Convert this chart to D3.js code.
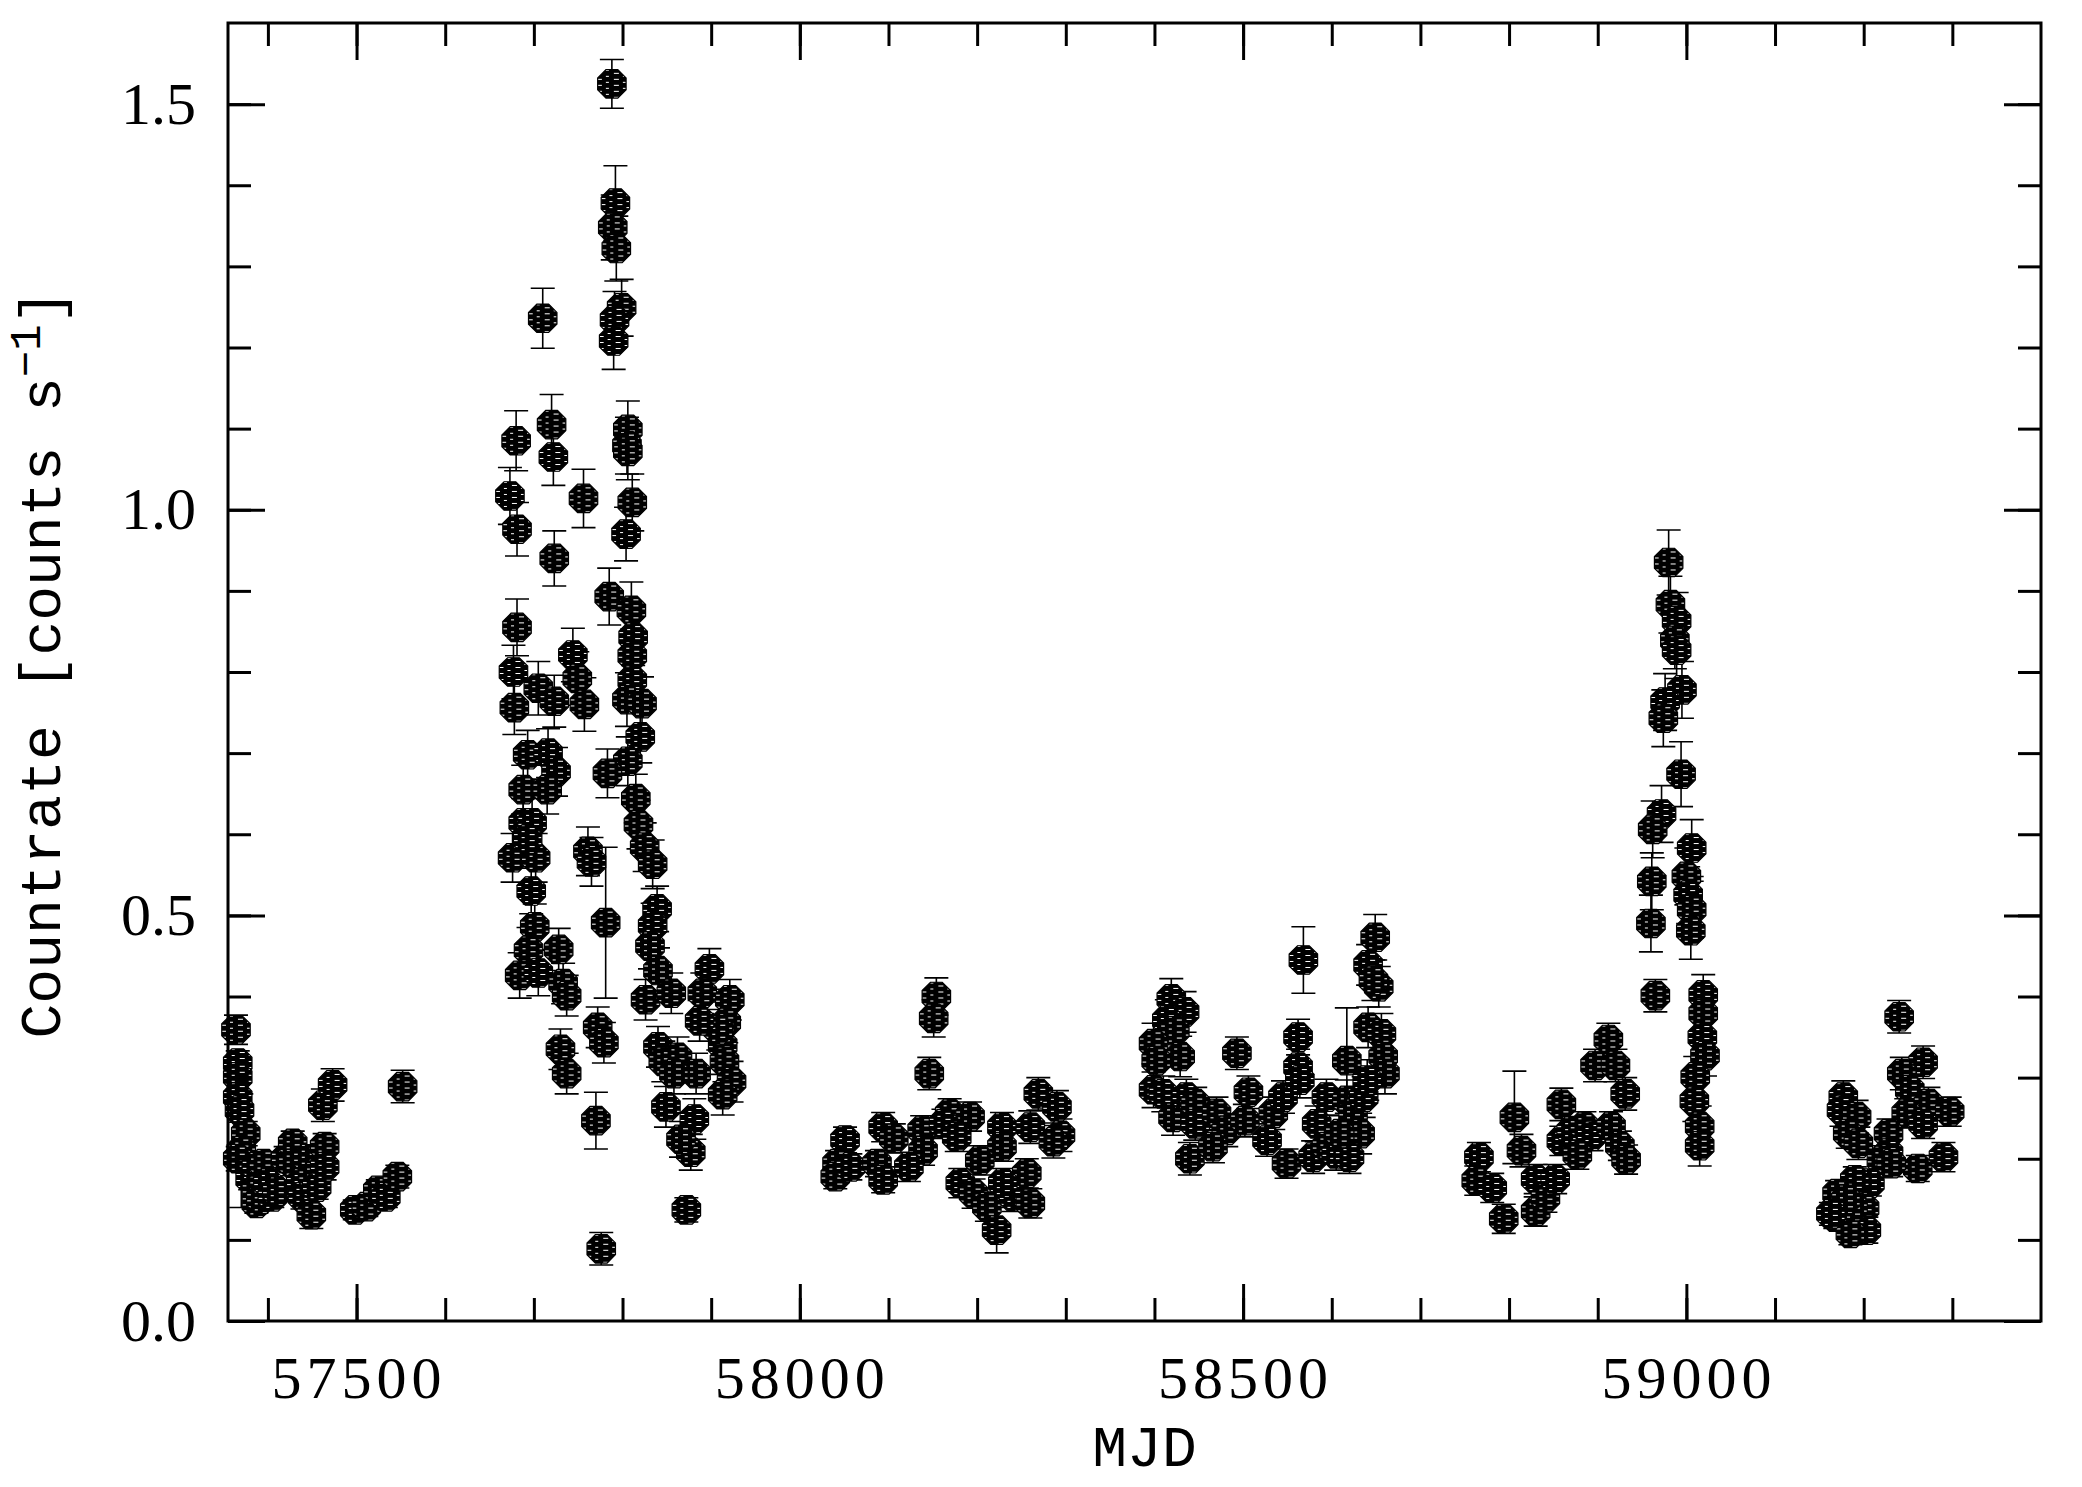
<!DOCTYPE html>
<html>
<head>
<meta charset="utf-8">
<script src="https://cdn.jsdelivr.net/npm/d3@7.9.0/dist/d3.min.js"></script>
<style>
  html, body { margin: 0; padding: 0; background: #fff; }
  svg { display: block; }
  .tick-label { font-family: "Liberation Serif", serif; font-size: 60px; fill: #000; }
  .x-label { letter-spacing: 5px; }
  .axis-title { font-family: "Liberation Mono", monospace; font-size: 58px; fill: #000; }
</style>
</head>
<body>
<svg id="chart" width="2082" height="1487"></svg>
<script>
// [MJD, countrate, error] per visibility season
const season1 = [
  [57364, 0.359, 0.018], [57366, 0.318, 0.015], [57366, 0.301, 0.015], [57366, 0.276, 0.015],
  [57368, 0.260, 0.015], [57375, 0.231, 0.015], [57370, 0.210, 0.070], [57366, 0.200, 0.015],
  [57380, 0.175, 0.013], [57387, 0.190, 0.015], [57387, 0.161, 0.015], [57387, 0.145, 0.012],
  [57392, 0.150, 0.012], [57395, 0.194, 0.014], [57400, 0.170, 0.014], [57405, 0.153, 0.013],
  [57410, 0.160, 0.013], [57420, 0.200, 0.015], [57428, 0.219, 0.015], [57428, 0.194, 0.015],
  [57437, 0.170, 0.015], [57439, 0.153, 0.015], [57445, 0.200, 0.015], [57449, 0.131, 0.017],
  [57451, 0.178, 0.015], [57455, 0.165, 0.015], [57464, 0.215, 0.016], [57464, 0.190, 0.016],
  [57462, 0.266, 0.020], [57473, 0.291, 0.020], [57498, 0.137, 0.012], [57511, 0.141, 0.012],
  [57524, 0.161, 0.013], [57533, 0.153, 0.013], [57546, 0.178, 0.014], [57552, 0.289, 0.020]
];

const season2 = [
  [57788, 1.525, 0.030], [57792, 1.378, 0.046], [57789, 1.348, 0.040], [57793, 1.322, 0.040],
  [57710, 1.236, 0.037], [57799, 1.249, 0.035], [57791, 1.234, 0.035], [57790, 1.208, 0.035],
  [57680, 1.085, 0.037], [57720, 1.105, 0.037], [57722, 1.065, 0.035], [57673, 1.017, 0.035],
  [57681, 0.976, 0.033], [57756, 1.014, 0.036], [57723, 0.940, 0.034], [57806, 1.099, 0.035],
  [57805, 1.079, 0.035], [57806, 1.072, 0.035], [57811, 1.009, 0.035], [57804, 0.970, 0.033],
  [57785, 0.893, 0.035], [57810, 0.876, 0.035], [57812, 0.843, 0.035], [57811, 0.820, 0.033],
  [57811, 0.790, 0.033], [57681, 0.855, 0.035], [57677, 0.800, 0.033], [57744, 0.821, 0.033],
  [57749, 0.792, 0.033], [57705, 0.780, 0.033], [57678, 0.756, 0.033], [57723, 0.764, 0.032],
  [57757, 0.760, 0.033], [57805, 0.766, 0.033], [57822, 0.761, 0.033], [57820, 0.720, 0.032],
  [57806, 0.690, 0.030], [57783, 0.675, 0.030], [57693, 0.698, 0.030], [57716, 0.700, 0.030],
  [57725, 0.677, 0.030], [57688, 0.655, 0.030], [57715, 0.655, 0.030], [57815, 0.644, 0.030],
  [57818, 0.612, 0.030], [57688, 0.614, 0.030], [57698, 0.614, 0.030], [57676, 0.571, 0.030],
  [57702, 0.571, 0.030], [57693, 0.594, 0.030], [57761, 0.579, 0.030], [57765, 0.566, 0.030],
  [57825, 0.584, 0.030], [57834, 0.563, 0.030], [57697, 0.530, 0.028], [57701, 0.486, 0.028],
  [57781, 0.491, 0.093], [57839, 0.508, 0.028], [57834, 0.487, 0.028], [57831, 0.462, 0.028],
  [57840, 0.432, 0.028], [57826, 0.396, 0.025], [57855, 0.404, 0.025], [57694, 0.457, 0.028],
  [57684, 0.426, 0.028], [57705, 0.429, 0.028], [57728, 0.458, 0.026], [57733, 0.416, 0.025],
  [57737, 0.401, 0.025], [57772, 0.362, 0.025], [57779, 0.343, 0.025], [57898, 0.434, 0.025],
  [57890, 0.404, 0.025], [57921, 0.396, 0.025], [57917, 0.368, 0.025], [57913, 0.340, 0.025],
  [57915, 0.320, 0.025], [57923, 0.295, 0.025], [57913, 0.279, 0.025], [57840, 0.338, 0.025],
  [57846, 0.320, 0.025], [57849, 0.264, 0.025], [57862, 0.325, 0.025], [57883, 0.305, 0.025],
  [57881, 0.249, 0.025], [57877, 0.208, 0.022], [57866, 0.224, 0.022], [57730, 0.335, 0.025],
  [57737, 0.305, 0.025], [57770, 0.247, 0.035], [57872, 0.137, 0.015], [57776, 0.089, 0.020],
  [57908, 0.359, 0.025], [57858, 0.305, 0.025], [57887, 0.370, 0.025]
];

const season3 = [
  [58154, 0.400, 0.023], [58151, 0.373, 0.023], [58146, 0.305, 0.020], [58094, 0.239, 0.018],
  [58106, 0.225, 0.018], [58051, 0.223, 0.016], [58042, 0.194, 0.016], [58040, 0.178, 0.015],
  [58057, 0.190, 0.016], [58087, 0.194, 0.016], [58094, 0.174, 0.016], [58138, 0.235, 0.018],
  [58139, 0.210, 0.018], [58123, 0.190, 0.018], [58169, 0.256, 0.018], [58192, 0.252, 0.018],
  [58162, 0.243, 0.018], [58177, 0.227, 0.018], [58228, 0.239, 0.018], [58228, 0.215, 0.018],
  [58203, 0.198, 0.018], [58181, 0.170, 0.018], [58196, 0.157, 0.018], [58211, 0.141, 0.018],
  [58222, 0.112, 0.028], [58241, 0.153, 0.018], [58256, 0.182, 0.018], [58260, 0.145, 0.018],
  [58269, 0.280, 0.020], [58290, 0.264, 0.020], [58260, 0.239, 0.020], [58294, 0.229, 0.020],
  [58286, 0.221, 0.020], [58229, 0.170, 0.018]
];

const season4 = [
  [58649, 0.473, 0.028], [58641, 0.439, 0.025], [58653, 0.412, 0.025], [58647, 0.420, 0.025],
  [58641, 0.362, 0.025], [58656, 0.354, 0.025], [58658, 0.326, 0.025], [58660, 0.305, 0.025],
  [58419, 0.397, 0.025], [58434, 0.381, 0.025], [58414, 0.371, 0.025], [58423, 0.358, 0.025],
  [58399, 0.342, 0.025], [58429, 0.326, 0.025], [58402, 0.321, 0.025], [58399, 0.285, 0.022],
  [58410, 0.280, 0.022], [58421, 0.251, 0.022], [58436, 0.276, 0.022], [58446, 0.268, 0.020],
  [58446, 0.243, 0.020], [58440, 0.200, 0.020], [58470, 0.256, 0.020], [58481, 0.235, 0.020],
  [58466, 0.215, 0.020], [58493, 0.330, 0.020], [58506, 0.282, 0.020], [58502, 0.247, 0.020],
  [58527, 0.223, 0.020], [58534, 0.256, 0.020], [58545, 0.276, 0.020], [58549, 0.194, 0.018],
  [58568, 0.445, 0.041], [58562, 0.350, 0.022], [58562, 0.313, 0.022], [58564, 0.297, 0.022],
  [58583, 0.243, 0.022], [58594, 0.276, 0.022], [58579, 0.202, 0.020], [58594, 0.215, 0.020],
  [58605, 0.206, 0.020], [58617, 0.321, 0.065], [58617, 0.272, 0.025], [58624, 0.256, 0.025],
  [58632, 0.231, 0.025], [58620, 0.202, 0.020], [58636, 0.276, 0.025], [58640, 0.297, 0.025],
  [58609, 0.231, 0.022]
];

const season5 = [
  [58980, 0.935, 0.040], [58982, 0.883, 0.035], [58989, 0.863, 0.035], [58987, 0.839, 0.035],
  [58989, 0.827, 0.035], [58995, 0.778, 0.035], [58976, 0.763, 0.035], [58974, 0.743, 0.035],
  [58994, 0.674, 0.040], [58972, 0.625, 0.035], [58962, 0.606, 0.035], [59006, 0.583, 0.035],
  [58961, 0.542, 0.035], [59000, 0.548, 0.035], [59002, 0.525, 0.035], [59006, 0.507, 0.035],
  [59005, 0.481, 0.035], [58960, 0.490, 0.035], [58965, 0.401, 0.020], [59019, 0.402, 0.025],
  [59019, 0.379, 0.025], [59018, 0.350, 0.025], [59021, 0.327, 0.025], [59010, 0.301, 0.025],
  [59009, 0.271, 0.025], [59015, 0.240, 0.025], [59015, 0.216, 0.025], [58912, 0.347, 0.020],
  [58897, 0.315, 0.020], [58920, 0.315, 0.020], [58931, 0.280, 0.020], [58859, 0.267, 0.020],
  [58806, 0.251, 0.057], [58814, 0.210, 0.020], [58766, 0.202, 0.018], [58763, 0.173, 0.018],
  [58781, 0.164, 0.018], [58794, 0.126, 0.018], [58830, 0.175, 0.018], [58830, 0.135, 0.018],
  [58841, 0.152, 0.018], [58859, 0.222, 0.018], [58870, 0.234, 0.018], [58885, 0.240, 0.018],
  [58893, 0.228, 0.018], [58915, 0.240, 0.018], [58925, 0.216, 0.018], [58932, 0.199, 0.018],
  [58877, 0.205, 0.018], [58852, 0.175, 0.018]
];

const season6 = [
  [59240, 0.375, 0.020], [59267, 0.319, 0.020], [59243, 0.305, 0.020], [59177, 0.276, 0.020],
  [59175, 0.260, 0.020], [59192, 0.252, 0.020], [59252, 0.285, 0.020], [59273, 0.268, 0.020],
  [59297, 0.258, 0.018], [59248, 0.256, 0.018], [59267, 0.243, 0.018], [59182, 0.231, 0.018],
  [59194, 0.219, 0.020], [59228, 0.231, 0.018], [59228, 0.207, 0.018], [59220, 0.198, 0.018],
  [59290, 0.202, 0.018], [59261, 0.188, 0.016], [59231, 0.194, 0.016], [59207, 0.170, 0.016],
  [59201, 0.139, 0.016], [59203, 0.112, 0.016], [59190, 0.174, 0.016], [59170, 0.157, 0.016],
  [59168, 0.128, 0.014], [59185, 0.108, 0.014], [59188, 0.141, 0.014], [59180, 0.150, 0.016],
  [59163, 0.132, 0.014]
];

const xRange = [57355, 59400];
const yRange = [0, 1.6];
const xLabels = [57500, 58000, 58500, 59000];
const yLabels = [0, 0.5, 1.0, 1.5];

const points = [season1, season2, season3, season4, season5, season6]
  .flat()
  .map(([mjd, rate, err]) => ({ mjd, rate, err }));

const margin = { top: 23, right: 41, bottom: 166, left: 228 };
const width = 2082, height = 1487;
const svg = d3.select('#chart');

const x = d3.scaleLinear().domain(xRange).range([margin.left, width - margin.right]);
const y = d3.scaleLinear().domain(yRange).range([height - margin.bottom, margin.top]);

// hatched fill, mimics the scan-line look of the filled circles
const defs = svg.append('defs');
const pat = defs.append('pattern')
  .attr('id', 'hatch')
  .attr('patternUnits', 'userSpaceOnUse')
  .attr('width', 17).attr('height', 6);
pat.append('rect').attr('width', 17).attr('height', 6).attr('fill', '#000');
pat.append('rect').attr('x', 2).attr('y', 1).attr('width', 5).attr('height', 1).attr('fill', '#fff');
pat.append('rect').attr('x', 11).attr('y', 4).attr('width', 3).attr('height', 1).attr('fill', '#fff');

// error bars
const capHalf = 12;
const bars = svg.append('g').attr('stroke', '#000').attr('stroke-width', 1.6).attr('fill', 'none');
points.forEach(d => {
  const y0 = y(d.rate - d.err), y1 = y(d.rate + d.err), cx = x(d.mjd);
  bars.append('path')
    .attr('d', `M${cx},${y0}V${y1}M${cx - capHalf},${y0}H${cx + capHalf}M${cx - capHalf},${y1}H${cx + capHalf}`);
});

// octagon markers
const octagon = {
  draw(context, size) {
    const r = Math.sqrt(size);
    for (let k = 0; k < 8; k++) {
      const a = Math.PI / 8 + k * Math.PI / 4;
      const px = r * Math.cos(a), py = r * Math.sin(a);
      if (k === 0) context.moveTo(px, py); else context.lineTo(px, py);
    }
    context.closePath();
  }
};
const symbol = d3.symbol().type(octagon).size(15.4 * 15.4);

svg.append('g')
  .selectAll('path')
  .data(points)
  .join('path')
  .attr('transform', d => `translate(${x(d.mjd)},${y(d.rate)})`)
  .attr('d', symbol)
  .attr('fill', 'url(#hatch)')
  .attr('stroke', '#000')
  .attr('stroke-width', 1.2);

// axes: ticks point inward on all four sides
const major = 37, minor = 23;
const bottom = height - margin.bottom, right = width - margin.right;

function styleAxis(g) {
  g.select('.domain').remove();
  g.selectAll('.tick line').attr('stroke', '#000').attr('stroke-width', 3);
  g.selectAll('.tick text').attr('class', 'tick-label');
}

const minorX = x.ticks(20).filter(t => t < xRange[1]);
const minorY = y.ticks(16).filter(t => t > 0 && t < yRange[1]);

svg.append('g').attr('transform', `translate(0,${bottom})`)
  .call(d3.axisBottom(x).tickValues(minorX).tickSize(-minor).tickFormat(''))
  .call(styleAxis);
svg.append('g').attr('transform', `translate(0,${bottom})`)
  .call(d3.axisBottom(x).tickValues(xLabels).tickSize(-major).tickPadding(34).tickFormat(d3.format('d')))
  .call(styleAxis)
  .call(g => g.selectAll('.tick text').attr('class', 'tick-label x-label').attr('dx', 2));
svg.append('g').attr('transform', `translate(0,${margin.top})`)
  .call(d3.axisTop(x).tickValues(minorX).tickSize(-minor).tickFormat(''))
  .call(styleAxis);
svg.append('g').attr('transform', `translate(0,${margin.top})`)
  .call(d3.axisTop(x).tickValues(xLabels).tickSize(-major).tickFormat(''))
  .call(styleAxis);

svg.append('g').attr('transform', `translate(${margin.left},0)`)
  .call(d3.axisLeft(y).tickValues(minorY).tickSize(-minor).tickFormat(''))
  .call(styleAxis);
svg.append('g').attr('transform', `translate(${margin.left},0)`)
  .call(d3.axisLeft(y).tickValues(yLabels).tickSize(-major).tickPadding(32).tickFormat(d3.format('.1f')))
  .call(styleAxis);
svg.append('g').attr('transform', `translate(${right},0)`)
  .call(d3.axisRight(y).tickValues(minorY).tickSize(-minor).tickFormat(''))
  .call(styleAxis);
svg.append('g').attr('transform', `translate(${right},0)`)
  .call(d3.axisRight(y).tickValues(yLabels).tickSize(-major).tickFormat(''))
  .call(styleAxis);

// frame
svg.append('rect')
  .attr('x', margin.left).attr('y', margin.top)
  .attr('width', right - margin.left).attr('height', bottom - margin.top)
  .attr('fill', 'none').attr('stroke', '#000').attr('stroke-width', 3);

// titles
svg.append('text')
  .attr('class', 'axis-title')
  .attr('x', (margin.left + right) / 2 + 10).attr('y', 1466)
  .attr('text-anchor', 'middle')
  .text('MJD');

const yt = svg.append('text')
  .attr('class', 'axis-title')
  .attr('transform', `translate(60,${664}) rotate(-90)`)
  .attr('text-anchor', 'middle');
yt.append('tspan').text('Countrate [counts s');
yt.append('tspan').attr('dy', -20).attr('font-size', '44px').text('\u22121');
yt.append('tspan').attr('dy', 20).text(']');
</script>
</body>
</html>
